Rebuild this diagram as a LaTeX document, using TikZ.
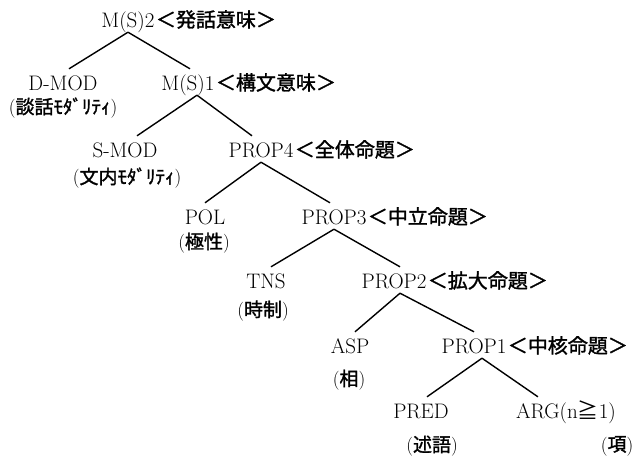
\documentclass[tikz,border=0pt]{standalone}
\usepackage{fontspec}
\usetikzlibrary{positioning}
\newfontfamily\jp{Noto Sans CJK JP}[BoldFont={Noto Sans CJK JP},BoldFeatures={FakeBold=1.5}]
\newcommand{\glosstext}[1]{({\jp\bfseries #1})}
\begin{document}
\begin{tikzpicture}[x=1pt,y=-1pt,
  cat/.style={inner sep=0pt,anchor=base,text height=21pt,text depth=5pt,font=\fontsize{21}{24}\selectfont},
  jpcat/.style={inner sep=0pt,text height=21pt,text depth=5pt,font=\jp\bfseries\fontsize{20}{24}\selectfont},
  gloss/.style={inner sep=0pt,font=\fontsize{19}{22}\selectfont},
  edge/.style={line width=1.4pt}]
\useasboundingbox (0,0) rectangle (636,459);
\node[cat] (ms2) at (128,27) {M(S)2};
\node[jpcat,base right=1pt of ms2] (ms2j) {＜発話意味＞};
\node[cat] (dmod) at (63,90) {D-MOD};
\node[gloss] (dmodg) at (63,108) {\glosstext{談話ﾓﾀﾞﾘﾃｨ}};
\node[cat] (ms1) at (188,90) {M(S)1};
\node[jpcat,base right=1pt of ms1] (ms1j) {＜構文意味＞};
\node[cat] (smod) at (125,157) {S-MOD};
\node[gloss] (smodg) at (127,178) {\glosstext{文内ﾓﾀﾞﾘﾃｨ}};
\node[cat] (prop4) at (261,157) {PROP4};
\node[jpcat,base right=1pt of prop4] (prop4j) {＜全体命題＞};
\node[cat] (pol) at (205,224) {POL};
\node[gloss] (polg) at (204,243) {\glosstext{極性}};
\node[cat] (prop3) at (334,224) {PROP3};
\node[jpcat,base right=1pt of prop3] (prop3j) {＜中立命題＞};
\node[cat] (tns) at (266,288) {TNS};
\node[gloss] (tnsg) at (263,311) {\glosstext{時制}};
\node[cat] (prop2) at (394,288) {PROP2};
\node[jpcat,base right=1pt of prop2] (prop2j) {＜拡大命題＞};
\node[cat] (asp) at (350,353) {ASP};
\node[gloss] (aspg) at (349,380) {\glosstext{相}};
\node[cat] (prop1) at (474,353) {PROP1};
\node[jpcat,base right=1pt of prop1] (prop1j) {＜中核命題＞};
\node[cat] (pred) at (421,418) {PRED};
\node[gloss] (predg) at (432,446) {\glosstext{述語}};
\node[cat] (arg) at (566,418) {ARG(n{\jp ≧}1)};
\node[gloss] (argg) at (617,446) {\glosstext{項}};
\draw[edge] (ms2.south) -- ([xshift=6pt]dmod.north);
\draw[edge] (ms2.south) -- ([xshift=2pt]ms1.north);
\draw[edge] ([xshift=9pt]ms1.south) -- ([xshift=12pt]smod.north);
\draw[edge] ([xshift=9pt]ms1.south) -- ([xshift=-9pt]prop4.north);
\draw[edge] (prop4.south) -- (pol.north);
\draw[edge] (prop4.south) -- ([xshift=-4pt]prop3.north);
\draw[edge] (prop3.south) -- ([xshift=5pt]tns.north);
\draw[edge] (prop3.south) -- ([xshift=6pt]prop2.north);
\draw[edge] ([xshift=6pt]prop2.south) -- ([xshift=5pt]asp.north);
\draw[edge] ([xshift=6pt]prop2.south) -- (prop1.north);
\draw[edge] ([xshift=8pt]prop1.south) -- ([xshift=6pt]pred.north);
\draw[edge] ([xshift=8pt]prop1.south) -- ([xshift=22pt]arg.north west);
\end{tikzpicture}
\end{document}
